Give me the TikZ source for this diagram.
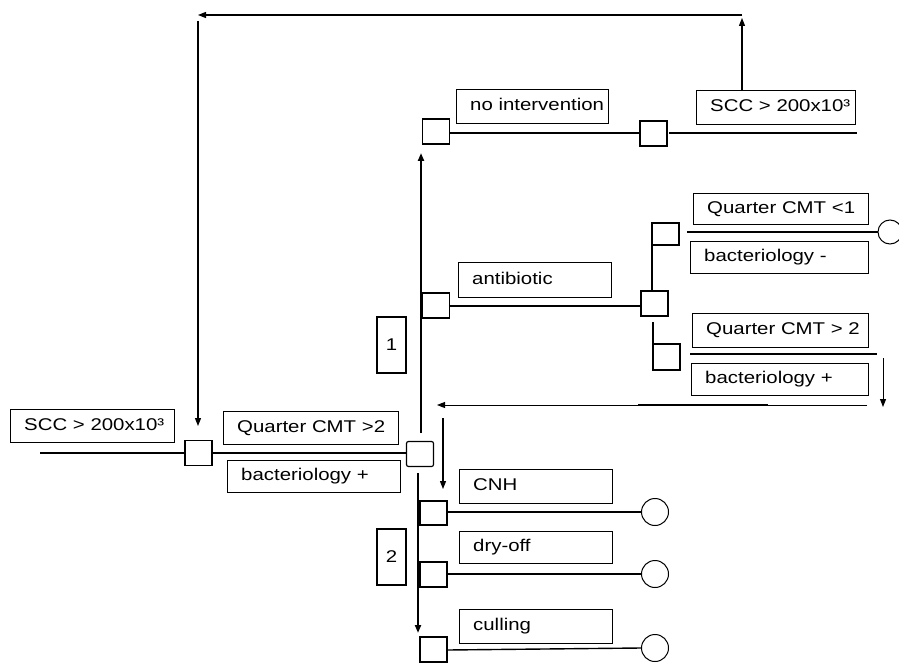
\documentclass[tikz,border=0pt]{standalone}
\usepackage{fontspec}
\setmainfont{Liberation Sans}[FakeStretch=1.2]
\usetikzlibrary{arrows.meta}
\tikzset{
  lbl/.style={draw, line width=1.2pt, rectangle, inner sep=0pt},
  ltext/.style={anchor=west, inner sep=0pt, text height=12.2pt, text depth=3.6pt},
  dec/.style={draw, line width=1.2pt, rectangle, fill=white, inner sep=0pt, minimum width=27pt, minimum height=25pt},
  chance/.style={draw, line width=1pt, circle, inner sep=0pt, minimum size=27pt},
  thinl/.style={line width=1.4pt},
  thickl/.style={line width=2.2pt},
  arr/.style={-{Triangle[length=8pt,width=6pt]}},
}
\newcommand\LB[6]{%
  \pgfmathsetmacro\lbw{#4-#2}\pgfmathsetmacro\lbh{#5-#3}%
  \node[lbl, minimum width=\lbw pt, minimum height=\lbh pt, anchor=north west] (#1) at (#2,#3) {};
  \node[ltext] (#1t) at ([xshift=14pt]#1.west) {#6};}
\begin{document}
\begin{tikzpicture}[x=1pt,y=-1pt,font=\fontsize{17}{20}\selectfont]
\useasboundingbox (0,0) rectangle (899,663);
% labels
\LB{scca}{10}{409}{174}{442}{SCC > 200x10³}
\LB{qa}{223}{411}{398}{444}{Quarter CMT >2}
\LB{ba}{227}{460}{400}{492}{bacteriology +}
\LB{noi}{456}{89}{608}{123}{no intervention}
\LB{sccb}{696}{90}{855}{124}{SCC > 200x10³}
\LB{anti}{458}{262}{611}{297}{antibiotic}
\LB{qlt}{693}{193}{868}{224}{Quarter CMT <1}
\LB{bneg}{690}{241}{868}{273}{bacteriology -}
\LB{qgt}{692}{313}{868}{347}{Quarter CMT > 2}
\LB{bpos}{691}{363}{868}{395}{bacteriology +}
\LB{cnh}{459}{469}{612}{503}{CNH}
\LB{dry}{459}{531}{612}{563}{dry-off}
\LB{cull}{459}{609}{612}{643}{culling}
\node[lbl, minimum width=29pt, minimum height=56pt] (one) at (391.5,345) {1};
\node[lbl, minimum width=29pt, minimum height=56pt] (two) at (391.5,557) {2};
% coordinates
\coordinate (l0) at (40,453);
\coordinate (vtopS) at (421,433);
\coordinate (vtopE) at (421,153);
\coordinate (vbotS) at (418,473);
\coordinate (vbotE) at (418,633);
\coordinate (ubS) at (652,291);
\coordinate (ubE) at (652,223);
\coordinate (dbS) at (653,322);
\coordinate (dbE) at (653,370);
\coordinate (ulS) at (687,232);
\coordinate (dlS) at (690,354);
\coordinate (dlE) at (877,354);
\coordinate (rdS) at (883,358);
\coordinate (rdE) at (883,407);
\coordinate (rhS) at (867,405);
\coordinate (rhE) at (437,405);
\coordinate (rhA) at (638,405);
\coordinate (rhB) at (768,405);
\coordinate (sdS) at (443,418);
\coordinate (sdE) at (443,489);
\coordinate (niS) at (669,133);
\coordinate (niE) at (857,133);
\coordinate (tvS) at (742,90);
\coordinate (tvE) at (742,18);
\coordinate (thS) at (742,15);
\coordinate (thE) at (198,15);
\coordinate (lvS) at (198,21);
\coordinate (lvE) at (198,426);
% vertical lines first
\draw[thickl, arr] (vtopS) -- (vtopE);
\draw[thickl, arr] (vbotS) -- (vbotE);
% decision nodes
\node[dec] (d1) at (198.5,453) {};
\node[dec, rounded corners=2pt] (d2) at (420,454) {};
\node[dec] (ni1) at (436,131.5) {};
\node[dec] (ni2) at (653.5,133.5) {};
\node[dec] (ab1) at (436,305.5) {};
\node[dec] (ab2) at (654.5,303.5) {};
\node[dec, minimum height=22pt] (ub) at (665.5,234) {};
\node[dec, minimum height=26pt] (db) at (666.5,357) {};
\node[dec, minimum height=24pt] (dc) at (433.5,513) {};
\node[dec] (dd) at (433.5,574.5) {};
\node[dec] (dk) at (433.5,649.5) {};
% chance nodes
\node[chance, minimum size=24pt] (cu) at (890,232) {};
\node[chance] (cc) at (655,512) {};
\node[chance] (cd) at (655,574) {};
\node[chance] (ck) at (655,648) {};
% connectors
\draw[thinl] (l0) -- (d1.west);
\draw[thinl] (d1.east) -- (d2.west |- d1.east);
\draw[thinl] (ni1.east |- 0,133) -- (ni2.west |- 0,133);
\draw[thinl] (niS) -- (niE);
\draw[thinl] (ab1.east |- 0,306) -- (ab2.west |- 0,306);
\draw[thinl] (ubS) -- (ubE);
\draw[thinl] (dbS) -- (dbE);
\draw[thinl] (ulS) -- (cu.west);
\draw[thinl] (dlS) -- (dlE);
\draw[line width=1pt, arr] (rdS) -- (rdE);
\draw[line width=1pt, arr] (rhS) -- (rhE);
\draw[line width=2pt] (rhA) -- (rhB);
\draw[line width=1.2pt, arr] (sdS) -- (sdE);
\draw[thinl] (dc.east |- 0,512) -- (cc.west);
\draw[thinl] (dd.east |- 0,574) -- (cd.west);
\draw[thinl] (dk.east |- 0,650) -- (ck.west);
\draw[line width=1.2pt, arr] (tvS) -- (tvE);
\draw[line width=1.2pt, arr] (thS) -- (thE);
\draw[line width=1.2pt, arr] (lvS) -- (lvE);
\end{tikzpicture}
\end{document}
